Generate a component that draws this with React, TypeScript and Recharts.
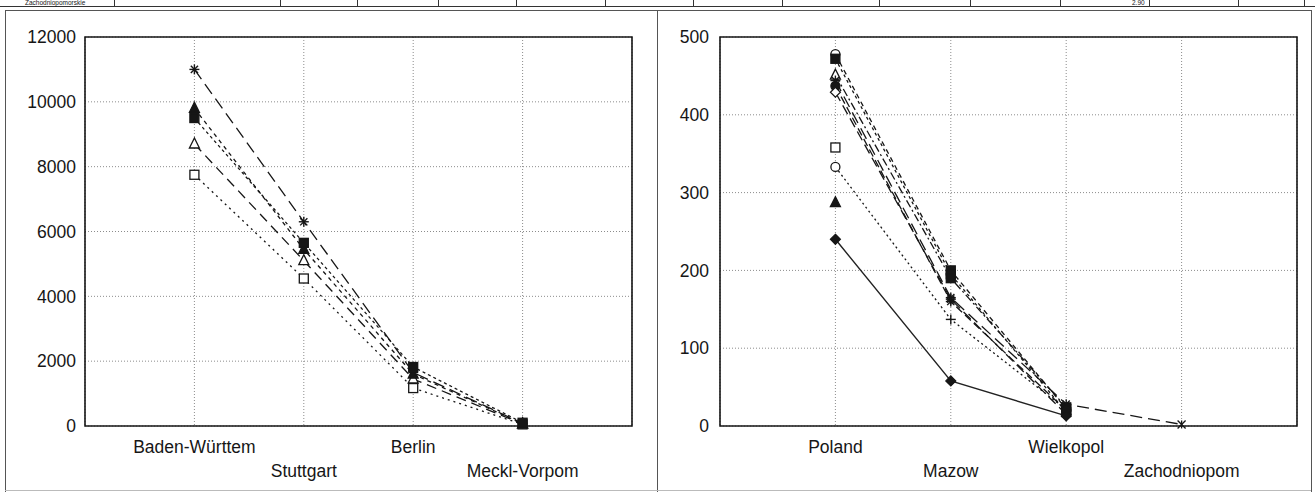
import React from "react";
import {
  CartesianGrid,
  Line,
  LineChart,
  ReferenceArea,
  XAxis,
  YAxis,
} from "recharts";

// --- data ---
const deCategories = ["Baden-Württem", "Stuttgart", "Berlin", "Meckl-Vorpom"];
const deYTicks = [0, 2000, 4000, 6000, 8000, 10000, 12000];
const deStar = [11000, 6300, 1650, 80];
const deFilledTriangle = [9800, 5450, 1600, 70];
const deFilledSquare = [9500, 5650, 1820, 100];
const deOpenTriangle = [8700, 5100, 1450, 60];
const deOpenSquare = [7750, 4550, 1170, 50];

const plCategories = ["Poland", "Mazow", "Wielkopol", "Zachodniopom"];
const plYTicks = [0, 100, 200, 300, 400, 500];
const plOpenCircle = [478, 200, 22, null];
const plFilledSquare = [472, 195, 18, null];
const plOpenTriangle = [451, 190, 24, null];
const plStar = [444, 165, 28, 2];
const plFilledCircle = [437, 160, 20, null];
const plOpenDiamond = [429, 163, 15, null];
const plOpenSquare = [358, null, null, null];
const plDotted = [333, 137, 21, null];
const plFilledTriangle = [287, null, null, null];
const plSolid = [240, 58, 13, null];

const stripLines = [114, 280, 357, 438, 516, 605, 693, 782, 879, 970, 1060, 1149, 1238, 1304];

type Series = { key: string; values: (number | null)[]; dash?: string; shapes: string[] };

// open markers first so the filled ones sit on top, as in the scan
const deSeries: Series[] = [
  { key: "osq", values: deOpenSquare, dash: "2 4", shapes: ["squareOpen", "squareOpen", "squareOpen", "squareOpen"] },
  { key: "otri", values: deOpenTriangle, dash: "10 6", shapes: ["triangleOpen", "triangleOpen", "triangleOpen", "triangleOpen"] },
  { key: "star", values: deStar, dash: "12 6", shapes: ["star", "star", "star", "star"] },
  { key: "ftri", values: deFilledTriangle, dash: "4 4", shapes: ["triangle", "triangle", "triangle", "triangle"] },
  { key: "fsq", values: deFilledSquare, dash: "3 3", shapes: ["square", "square", "square", "square"] },
];

const plSeries: Series[] = [
  { key: "ocirc", values: plOpenCircle, dash: "5 4", shapes: ["circleOpen", "square", "square", ""] },
  { key: "fsq", values: plFilledSquare, dash: "3 3", shapes: ["square", "square", "square", ""] },
  { key: "otri", values: plOpenTriangle, dash: "8 3 2 3", shapes: ["triangleOpen", "square", "square", ""] },
  { key: "star", values: plStar, dash: "12 6", shapes: ["star", "star", "star", "x"] },
  { key: "fcirc", values: plFilledCircle, dash: "8 4", shapes: ["circle", "star", "circle", ""] },
  { key: "odia", values: plOpenDiamond, dash: "10 5", shapes: ["diamondOpen", "star", "diamond", ""] },
  { key: "osq", values: plOpenSquare, shapes: ["squareOpen"] },
  { key: "dot", values: plDotted, dash: "2 3", shapes: ["circleOpen", "plus", "circle", ""] },
  { key: "ftri", values: plFilledTriangle, shapes: ["triangle"] },
  { key: "solid", values: plSolid, shapes: ["diamond", "diamond", "diamond", ""] },
];

const buildRows = (cats: string[], series: Series[]) =>
  cats.map((c, i) => {
    const row: Record<string, number | string | null> = { x: i + 1, name: c };
    series.forEach((s) => {
      row[s.key] = s.values[i] ?? null;
    });
    return row;
  });

const deRows = buildRows(deCategories, deSeries);
const plRows = buildRows(plCategories, plSeries);

const INK = "#161616";
const FONT = "'Liberation Sans', Arial, sans-serif";

function Marker({ cx, cy, shape }: { cx?: number; cy?: number; shape?: string }) {
  if (cx == null || cy == null || !shape) return <g />;
  const s = 5;
  const fillOf = (open: boolean) => (open ? "#fff" : INK);
  switch (shape) {
    case "star":
      return (
        <g stroke={INK} strokeWidth={1.4}>
          <line x1={cx - s} y1={cy} x2={cx + s} y2={cy} />
          <line x1={cx} y1={cy - s} x2={cx} y2={cy + s} />
          <line x1={cx - 3.6} y1={cy - 3.6} x2={cx + 3.6} y2={cy + 3.6} />
          <line x1={cx - 3.6} y1={cy + 3.6} x2={cx + 3.6} y2={cy - 3.6} />
        </g>
      );
    case "x":
      return (
        <g stroke={INK} strokeWidth={1.3}>
          <line x1={cx - 4} y1={cy - 4} x2={cx + 4} y2={cy + 4} />
          <line x1={cx - 4} y1={cy + 4} x2={cx + 4} y2={cy - 4} />
          <line x1={cx} y1={cy - 4} x2={cx} y2={cy + 4} />
        </g>
      );
    case "plus":
      return (
        <g stroke={INK} strokeWidth={1.4}>
          <line x1={cx - s} y1={cy} x2={cx + s} y2={cy} />
          <line x1={cx} y1={cy - s} x2={cx} y2={cy + s} />
        </g>
      );
    case "triangle":
    case "triangleOpen":
      return (
        <polygon
          points={`${cx},${cy - 6} ${cx - 5},${cy + 4} ${cx + 5},${cy + 4}`}
          fill={fillOf(shape === "triangleOpen")}
          stroke={INK}
          strokeWidth={1.3}
        />
      );
    case "square":
    case "squareOpen":
      return (
        <rect
          x={cx - 4.5}
          y={cy - 4.5}
          width={9}
          height={9}
          fill={fillOf(shape === "squareOpen")}
          stroke={INK}
          strokeWidth={1.3}
        />
      );
    case "circle":
    case "circleOpen":
      return <circle cx={cx} cy={cy} r={4.5} fill={fillOf(shape === "circleOpen")} stroke={INK} strokeWidth={1.3} />;
    case "diamond":
    case "diamondOpen":
      return (
        <polygon
          points={`${cx},${cy - 5} ${cx + 5},${cy} ${cx},${cy + 5} ${cx - 5},${cy}`}
          fill={fillOf(shape === "diamondOpen")}
          stroke={INK}
          strokeWidth={1.2}
        />
      );
    default:
      return <g />;
  }
}

function StaggerTick(props: any) {
  const { x, y, payload, labels } = props;
  const v = payload.value as number;
  const label = labels[v - 1];
  if (!label) return <g />;
  return (
    <text x={x} y={y} dy={v % 2 === 1 ? 27 : 51} textAnchor="middle" fill={INK} fontSize={17.5} fontFamily={FONT}>
      {label}
    </text>
  );
}

function Panel({
  rows,
  series,
  labels,
  yTicks,
  yMax,
  width,
  leftAxis,
  marginLeft,
  marginRight,
  tickGap,
}: {
  rows: Record<string, number | string | null>[];
  series: Series[];
  labels: string[];
  yTicks: number[];
  yMax: number;
  width: number;
  leftAxis: number;
  marginLeft: number;
  marginRight: number;
  tickGap: number;
}) {
  return (
    <LineChart
      width={width}
      height={492}
      data={rows}
      margin={{ top: 37, right: marginRight, bottom: 6, left: marginLeft }}
    >
      <CartesianGrid stroke="#8c8c8c" strokeDasharray="1 2" />
      <XAxis
        dataKey="x"
        type="number"
        domain={[0, 5]}
        ticks={[1, 2, 3, 4]}
        axisLine={false}
        tickLine={false}
        tickSize={0}
        tickMargin={0}
        height={60}
        interval={0}
        tick={(p: any) => <StaggerTick {...p} labels={labels} />}
      />
      <YAxis
        type="number"
        domain={[0, yMax]}
        ticks={yTicks}
        axisLine={false}
        tickLine={false}
        tickSize={0}
        tickMargin={tickGap}
        width={leftAxis}
        interval={0}
        tick={{ fill: INK, fontSize: 17.5, fontFamily: FONT }}
      />
      <ReferenceArea x1={0} x2={5} y1={0} y2={yMax} fill="none" stroke={INK} strokeWidth={1.6} />
      {series.map((s) => (
        <Line
          key={s.key}
          dataKey={s.key}
          type="linear"
          stroke={s.dash ? INK : "#222"}
          strokeWidth={s.dash ? 1.3 : 1.4}
          strokeDasharray={s.dash}
          connectNulls={false}
          isAnimationActive={false}
          activeDot={false}
          dot={(p: any) => <Marker key={`${s.key}-${p.index}`} cx={p.cx} cy={p.cy} shape={p.value == null ? "" : s.shapes[p.index]} />}
        />
      ))}
    </LineChart>
  );
}

export default function App() {
  return (
    <div
      style={{
        position: "absolute",
        left: 0,
        top: 0,
        width: 1315,
        height: 492,
        background: "#fff",
        overflow: "hidden",
        fontFamily: FONT,
      }}
    >
      {/* table row at the very top, squeezed into the strip above the panels */}
      <div style={{ position: "absolute", left: 0, top: 0, width: 1315, height: 6, borderBottom: "1px solid #333" }}>
        <div style={{ position: "absolute", left: 25, top: -1, fontSize: 6.5, lineHeight: "7px", color: INK, whiteSpace: "nowrap" }}>
          Zachodniopomorskie
        </div>
        <div style={{ position: "absolute", left: 1132, top: -1, fontSize: 6.5, lineHeight: "7px", color: INK }}>2.90</div>
        {stripLines.map((x) => (
          <div key={x} style={{ position: "absolute", left: x, top: 0, width: 1, height: 7, background: "#333" }} />
        ))}
      </div>
      {/* panel frames */}
      <div style={{ position: "absolute", left: 5, top: 10, width: 1306, height: 1, background: "#555" }} />
      <div style={{ position: "absolute", left: 5, top: 10, width: 1, height: 482, background: "#555" }} />
      <div style={{ position: "absolute", left: 657, top: 10, width: 1, height: 482, background: "#555" }} />
      <div style={{ position: "absolute", left: 1311, top: 10, width: 1, height: 482, background: "#555" }} />
      <div style={{ position: "absolute", left: 5, top: 490, width: 1306, height: 1, background: "#bbb" }} />

      <div style={{ position: "absolute", left: 0, top: 0 }}>
        <Panel
          rows={deRows}
          series={deSeries}
          labels={deCategories}
          yTicks={deYTicks}
          yMax={12000}
          width={657}
          leftAxis={80}
          marginLeft={5}
          marginRight={25}
          tickGap={9}
        />
      </div>
      <div style={{ position: "absolute", left: 657, top: 0 }}>
        <Panel
          rows={plRows}
          series={plSeries}
          labels={plCategories}
          yTicks={plYTicks}
          yMax={500}
          width={658}
          leftAxis={60}
          marginLeft={3}
          marginRight={18}
          tickGap={11}
        />
      </div>
    </div>
  );
}
